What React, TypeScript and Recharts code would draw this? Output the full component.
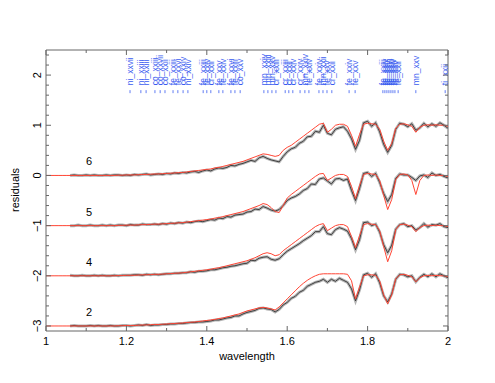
import {
  ComposedChart,
  Line,
  Scatter,
  XAxis,
  YAxis,
  ReferenceLine,
  Label,
} from "recharts";

// wavelength grid, 1.00 .. 2.00
const WAVE = [
  1.0, 1.01, 1.02, 1.03, 1.04, 1.05, 1.06, 1.07, 1.08, 1.09,
  1.1, 1.11, 1.12, 1.13, 1.14, 1.15, 1.16, 1.17, 1.18, 1.19,
  1.2, 1.21, 1.22, 1.23, 1.24, 1.25, 1.26, 1.27, 1.28, 1.29,
  1.3, 1.31, 1.32, 1.33, 1.34, 1.35, 1.36, 1.37, 1.38, 1.39,
  1.4, 1.41, 1.42, 1.43, 1.44, 1.45, 1.46, 1.47, 1.48, 1.49,
  1.5, 1.51, 1.52, 1.53, 1.54, 1.55, 1.56, 1.57, 1.58, 1.59,
  1.6, 1.61, 1.62, 1.63, 1.64, 1.65, 1.66, 1.67, 1.68, 1.69,
  1.7, 1.71, 1.72, 1.73, 1.74, 1.75, 1.76, 1.77, 1.78, 1.79,
  1.8, 1.81, 1.82, 1.83, 1.84, 1.85, 1.86, 1.87, 1.88, 1.89,
  1.9, 1.91, 1.92, 1.93, 1.94, 1.95, 1.96, 1.97, 1.98, 1.99, 2.0,
];
const DATA_START = 6; // observed points begin at 1.06

const SERIES_NAMES = ["6", "5", "4", "2"];
const OFFSETS = [0, -1, -2, -3];

// models (red), 1.00 .. 2.00
const MODEL_6 = [
  0, 0, 0, 0, 0, 0, 0, 0, 0, 0,
  0, 0, 0, 0, 0, 0, 0, 0, 0.005, 0.005,
  0.01, 0.01, 0.01, 0.015, 0.02, 0.02, 0.025, 0.03, 0.03, 0.035,
  0.04, 0.045, 0.05, 0.055, 0.06, 0.07, 0.08, 0.09, 0.1, 0.11,
  0.12, 0.13, 0.15, 0.16, 0.18, 0.2, 0.22, 0.24, 0.26, 0.28,
  0.31, 0.34, 0.37, 0.4, 0.43, 0.42, 0.4, 0.38, 0.4, 0.5,
  0.56, 0.6, 0.66, 0.72, 0.78, 0.84, 0.9, 0.96, 1.02, 1.04,
  0.86, 0.92, 1.0, 1.02, 1.02, 0.98, 0.8, 0.58, 0.82, 1.02,
  1.04, 1.03, 1.02, 0.92, 0.68, 0.5, 0.64, 0.94, 1.02, 1.03,
  1.01, 0.98, 0.86, 0.96, 1.0, 1.01, 1.0, 1.01, 1.0, 1.0, 0.98,
];
const MODEL_5 = [
  0, 0, 0, 0, 0, 0, 0, 0, 0, 0,
  0, 0, 0, 0, 0, 0, 0, 0, 0.005, 0.005,
  0.01, 0.01, 0.01, 0.015, 0.02, 0.02, 0.025, 0.03, 0.03, 0.035,
  0.04, 0.045, 0.05, 0.055, 0.06, 0.07, 0.08, 0.09, 0.1, 0.11,
  0.12, 0.13, 0.15, 0.16, 0.18, 0.2, 0.22, 0.24, 0.26, 0.28,
  0.31, 0.34, 0.37, 0.4, 0.44, 0.42, 0.36, 0.28, 0.26, 0.4,
  0.55, 0.62, 0.68, 0.74, 0.8, 0.86, 0.92, 0.98, 1.03, 1.04,
  0.9, 0.95, 1.0, 1.02, 1.02, 0.98, 0.78, 0.54, 0.8, 1.02,
  1.04, 1.03, 1.02, 0.9, 0.6, 0.32, 0.52, 0.92, 1.02, 1.03,
  1.01, 0.9, 0.62, 0.9, 1.0, 1.01, 1.0, 1.01, 1.0, 1.0, 0.98,
];
const MODEL_4 = [
  0, 0, 0, 0, 0, 0, 0, 0, 0, 0,
  0, 0, 0, 0, 0, 0, 0, 0, 0.005, 0.005,
  0.01, 0.01, 0.01, 0.015, 0.02, 0.02, 0.025, 0.03, 0.03, 0.035,
  0.04, 0.045, 0.05, 0.055, 0.06, 0.07, 0.08, 0.09, 0.1, 0.11,
  0.12, 0.13, 0.15, 0.16, 0.18, 0.2, 0.22, 0.24, 0.26, 0.28,
  0.3, 0.33, 0.36, 0.4, 0.44, 0.46, 0.44, 0.4, 0.42, 0.5,
  0.56, 0.62, 0.68, 0.74, 0.8, 0.86, 0.92, 0.98, 1.02, 1.04,
  0.9, 0.95, 1.0, 1.02, 1.02, 0.98, 0.78, 0.56, 0.8, 1.02,
  1.04, 1.03, 1.02, 0.9, 0.58, 0.28, 0.5, 0.92, 1.02, 1.03,
  1.01, 0.98, 0.88, 0.96, 1.0, 1.01, 1.0, 1.01, 1.0, 1.0, 0.98,
];
const MODEL_2 = [
  0, 0, 0, 0, 0, 0, 0, 0, 0, 0,
  0, 0, 0, 0, 0, 0, 0, 0, 0.005, 0.005,
  0.01, 0.01, 0.01, 0.015, 0.02, 0.02, 0.025, 0.03, 0.03, 0.035,
  0.04, 0.045, 0.05, 0.055, 0.06, 0.07, 0.075, 0.08, 0.09, 0.1,
  0.11, 0.12, 0.13, 0.15, 0.16, 0.18, 0.2, 0.22, 0.24, 0.27,
  0.3, 0.32, 0.34, 0.36, 0.37, 0.36, 0.34, 0.32, 0.38, 0.46,
  0.54, 0.62, 0.7, 0.78, 0.85, 0.91, 0.96, 1.0, 1.03, 1.04,
  1.04, 1.04, 1.04, 1.04, 1.04, 1.03, 0.9, 0.54, 0.78, 1.0,
  1.02, 1.02, 1.01, 0.9, 0.62, 0.44, 0.62, 0.94, 1.02, 1.03,
  1.01, 0.98, 0.88, 0.96, 1.0, 1.01, 1.0, 1.01, 1.0, 1.0, 0.98,
];

// observed residual spectra (black), 1.06 .. 2.00
const DATA_6 = [
  0.0, 0.01, 0.0, 0.0, 0.01, 0.0, 0.01, 0.0, 0.0, 0.01, 0.0, 0.01, 0.01, 0.0,
  0.01, 0.0, 0.02, 0.01, 0.02, 0.03, 0.01, 0.02, 0.03, 0.02,
  0.04, 0.03, 0.05, 0.04, 0.06, 0.05, 0.07, 0.08, 0.06, 0.09,
  0.11, 0.09, 0.13, 0.15, 0.14, 0.16, 0.2, 0.19, 0.22, 0.24,
  0.27, 0.3, 0.28, 0.35, 0.38, 0.34, 0.31, 0.29, 0.27, 0.38,
  0.47, 0.53, 0.56, 0.64, 0.68, 0.77, 0.78, 0.88, 0.86, 1.0,
  0.84, 0.81, 0.92, 0.95, 0.97, 0.88, 0.73, 0.52, 0.7, 1.05,
  1.08, 0.98, 1.05, 0.87, 0.62, 0.46, 0.6, 0.92, 1.04, 1.02,
  0.97, 1.03, 0.9, 0.95, 1.04, 0.97, 1.03, 0.98, 1.05, 1.0, 0.94,
];
const DATA_5 = [
  0.0, 0.0, 0.01, 0.0, 0.0, 0.01, 0.0, 0.0, 0.01, 0.0, 0.01, 0.0, 0.01, 0.01,
  0.0, 0.02, 0.01, 0.01, 0.03, 0.02, 0.02, 0.03, 0.02, 0.04,
  0.03, 0.05, 0.04, 0.06, 0.05, 0.07, 0.06, 0.08, 0.09, 0.08,
  0.1, 0.12, 0.11, 0.15, 0.14, 0.18, 0.17, 0.21, 0.22, 0.23,
  0.27, 0.28, 0.33, 0.32, 0.38, 0.35, 0.31, 0.29, 0.32, 0.4,
  0.5, 0.55, 0.58, 0.63, 0.7, 0.74, 0.83, 0.82, 0.93, 0.95,
  0.89, 0.83, 0.93, 0.94, 0.9, 0.93, 0.7, 0.5, 0.74, 1.04,
  1.06, 0.98, 1.04, 0.86, 0.64, 0.48, 0.62, 0.94, 1.03, 1.01,
  1.01, 0.96, 0.9, 0.99, 1.01, 0.96, 1.05, 1.0, 1.02, 0.98, 0.95,
];
const DATA_4 = [
  0.01, 0.0, 0.0, 0.01, 0.0, 0.0, 0.01, 0.0, 0.01, 0.0, 0.0, 0.01, 0.0, 0.01,
  0.01, 0.01, 0.02, 0.02, 0.01, 0.03, 0.02, 0.03, 0.02, 0.03,
  0.04, 0.04, 0.05, 0.05, 0.06, 0.06, 0.08, 0.07, 0.09, 0.09,
  0.1, 0.12, 0.12, 0.14, 0.16, 0.17, 0.19, 0.2, 0.22, 0.24,
  0.25, 0.31, 0.3, 0.35, 0.37, 0.38, 0.33, 0.31, 0.34, 0.42,
  0.49, 0.54, 0.59, 0.64, 0.7, 0.75, 0.8, 0.88, 0.88, 0.98,
  0.84, 0.82, 0.92, 0.96, 0.93, 0.89, 0.74, 0.52, 0.72, 1.06,
  1.07, 1.0, 1.03, 0.87, 0.62, 0.46, 0.61, 0.93, 1.02, 1.04,
  0.98, 1.0, 0.91, 0.96, 1.04, 0.97, 1.02, 1.01, 1.04, 0.98, 0.96,
];
const DATA_2 = [
  0.0, 0.01, 0.0, 0.0, 0.0, 0.01, 0.0, 0.01, 0.0, 0.0, 0.01, 0.0, 0.0, 0.01,
  0.01, 0.0, 0.01, 0.02, 0.01, 0.03, 0.01, 0.02, 0.02, 0.03,
  0.03, 0.04, 0.04, 0.05, 0.05, 0.06, 0.07, 0.07, 0.08, 0.08,
  0.09, 0.1, 0.12, 0.12, 0.14, 0.16, 0.17, 0.2, 0.2, 0.24,
  0.27, 0.29, 0.31, 0.35, 0.36, 0.34, 0.33, 0.28, 0.33, 0.42,
  0.47, 0.55, 0.59, 0.67, 0.71, 0.79, 0.83, 0.87, 0.89, 0.93,
  0.87, 0.93, 0.89, 0.95, 0.91, 0.87, 0.74, 0.5, 0.72, 1.02,
  1.05, 0.97, 1.04, 0.86, 0.6, 0.48, 0.64, 0.93, 1.03, 1.02,
  0.98, 1.0, 0.88, 0.97, 1.03, 0.98, 1.04, 0.98, 1.04, 1.0, 0.96,
];

const MODELS = [MODEL_6, MODEL_5, MODEL_4, MODEL_2];
const DATAS = [DATA_6, DATA_5, DATA_4, DATA_2];

// line identifications along the top
const LINE_WAVE = [
  1.209, 1.236, 1.249, 1.271, 1.284, 1.296, 1.316, 1.328, 1.341, 1.353,
  1.391, 1.4, 1.41, 1.43, 1.44, 1.46, 1.47, 1.483, 1.542, 1.552,
  1.562, 1.572, 1.595, 1.604, 1.614, 1.632, 1.644, 1.654, 1.679, 1.689,
  1.699, 1.711, 1.754, 1.769, 1.838, 1.843, 1.848, 1.853, 1.858, 1.863,
  1.868, 1.876, 1.92, 1.993,
];
const LINE_NAMES = [
  "ni_xxvii", "ni_xxiii", "ni_xxiii", "co_xxiii", "co_xxvii", "co_xxii", "fe_xxiii", "fe_xxvi", "co_xxiv", "ni_xxiv",
  "fe_xxiii", "fe_xxiv", "cr_xxii", "fe_xxv", "fe_xxiv", "fe_xxvi", "fe_xxiii", "co_xxv", "mn_xxiv", "mn_xxiii",
  "mn_xxv", "cr_xxiii", "cr_xxiii", "cr_xxii", "cr_xxiv", "cr_xxiv", "mn_xxiv", "fe_xxiv", "fe_xxiv", "mn_xxii",
  "fe_xxv", "cr_xxii", "fe_xxiv", "fe_xxv", "fe_xxiii", "fe_xxiv", "fe_xxv", "fe_xxvi", "fe_xxiii", "fe_xxiv",
  "fe_xxv", "fe_xxii", "mn_xxv", "ti_xxii",
];

const X_TICKS = [1, 1.1, 1.2, 1.3, 1.4, 1.5, 1.6, 1.7, 1.8, 1.9, 2];
const Y_TICKS = [
  -3, -2.8, -2.6, -2.4, -2.2, -2, -1.8, -1.6, -1.4, -1.2, -1, -0.8, -0.6, -0.4,
  -0.2, 0, 0.2, 0.4, 0.6, 0.8, 1, 1.2, 1.4, 1.6, 1.8, 2, 2.2, 2.4,
];

const FONT = "'Liberation Sans', Arial, sans-serif";
const FRAME = "#666";
const RED = "#ff4433";
const BLUE = "#3a5cf0";
const PLOT_TOP = 50;
const PLOT_RIGHT = 448;

const modelSeries = MODELS.map((m, s) =>
  m.map((v, i) => ({ x: WAVE[i], y: v + OFFSETS[s] }))
);
const dataSeries = DATAS.map((d, s) =>
  d.map((v, i) => ({ x: WAVE[DATA_START + i], y: v + OFFSETS[s] }))
);
const idMarks = LINE_WAVE.map((w, i) => ({ x: w, y: 1.7, name: LINE_NAMES[i] }));
const seriesTags = SERIES_NAMES.map((n, s) => ({ x: 1.107, y: OFFSETS[s] + 0.28, name: n }));

function XTick({ x, y, payload }: any) {
  const v = payload.value;
  const major = Math.round(v * 10) % 2 === 0;
  const len = major ? 5 : 3;
  return (
    <g>
      <line x1={x} y1={y} x2={x} y2={y - len} stroke={FRAME} />
      <line x1={x} y1={PLOT_TOP} x2={x} y2={PLOT_TOP + len} stroke={FRAME} />
      {major && (
        <text x={x} y={y + 10} textAnchor="middle" dominantBaseline="central" fontSize={11} fontFamily={FONT} fill="#000">
          {String(Math.round(v * 10) / 10)}
        </text>
      )}
    </g>
  );
}

function YTick({ x, y, payload }: any) {
  const v = payload.value;
  const major = Math.abs(v - Math.round(v)) < 1e-6;
  const len = major ? 5 : 3;
  const txt = v < 0 ? "\u2212" + Math.abs(v) : String(v);
  return (
    <g>
      <line x1={x} y1={y} x2={x + len} y2={y} stroke={FRAME} />
      <line x1={PLOT_RIGHT} y1={y} x2={PLOT_RIGHT - len} y2={y} stroke={FRAME} />
      {major && (
        <text x={37} y={y} transform={`rotate(-90 37 ${y})`} textAnchor="middle" dominantBaseline="central" fontSize={11} fontFamily={FONT} fill="#000">
          {txt}
        </text>
      )}
    </g>
  );
}

function IdMark(props: any) {
  const { cx, cy, payload } = props;
  const ty = cy - 5;
  return (
    <g>
      <line x1={cx} y1={cy} x2={cx} y2={cy + 3} stroke={BLUE} strokeWidth={0.8} />
      <text x={cx} y={ty} dy="0.35em" transform={`rotate(-90 ${cx} ${ty})`} fontSize={8.5} fontFamily={FONT} fill={BLUE}>
        {payload.name}
      </text>
    </g>
  );
}

function SeriesTag(props: any) {
  const { cx, cy, payload } = props;
  return (
    <text x={cx} y={cy} textAnchor="middle" dominantBaseline="central" fontSize={11} fontFamily={FONT} fill="#000">
      {payload.name}
    </text>
  );
}

export default function App() {
  return (
    <div style={{ position: "absolute", left: 0, top: 0, background: "#fff" }}>
      <ComposedChart width={495} height={383} margin={{ top: 50, right: 47, bottom: 22, left: 16 }}>
        <XAxis
          type="number"
          dataKey="x"
          domain={[1, 2]}
          ticks={X_TICKS}
          interval={0}
          allowDataOverflow
          height={30}
          tickSize={0}
          tickMargin={0}
          tickLine={false}
          axisLine={{ stroke: FRAME }}
          tick={<XTick />}
        >
          <Label
            content={() => (
              <text x={247} y={356} textAnchor="middle" dominantBaseline="central" fontSize={11} fontFamily={FONT} fill="#000">
                wavelength
              </text>
            )}
          />
        </XAxis>
        <YAxis
          type="number"
          domain={[-3.1, 2.5]}
          ticks={Y_TICKS}
          interval={0}
          allowDataOverflow
          width={30}
          tickSize={0}
          tickMargin={0}
          tickLine={false}
          axisLine={{ stroke: FRAME }}
          tick={<YTick />}
        >
          <Label
            content={() => (
              <text x={15} y={190} transform="rotate(-90 15 190)" textAnchor="middle" dominantBaseline="central" fontSize={11} fontFamily={FONT} fill="#000">
                residuals
              </text>
            )}
          />
        </YAxis>
        <ReferenceLine y={2.5} stroke={FRAME} />
        <ReferenceLine x={2} stroke={FRAME} />

        {dataSeries.map((d, s) => (
          <Line key={"h" + s} data={d} dataKey="y" stroke="#b4b4b4" strokeWidth={3} dot={false} isAnimationActive={false} />
        ))}
        {dataSeries.map((d, s) => (
          <Line key={"d" + s} data={d} dataKey="y" stroke="#222" strokeWidth={0.8} dot={false} isAnimationActive={false} />
        ))}
        {modelSeries.map((d, s) => (
          <Line key={"m" + s} data={d} dataKey="y" stroke={RED} strokeWidth={1} dot={false} isAnimationActive={false} />
        ))}

        <Scatter data={idMarks} dataKey="y" shape={<IdMark />} isAnimationActive={false} />
        <Scatter data={seriesTags} dataKey="y" shape={<SeriesTag />} isAnimationActive={false} />
      </ComposedChart>
    </div>
  );
}
